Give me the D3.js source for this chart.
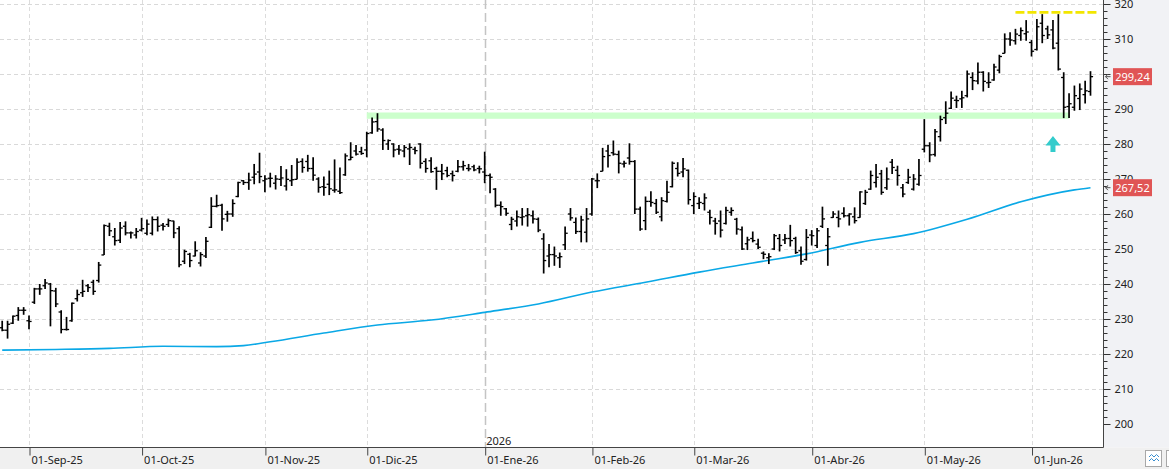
<!DOCTYPE html>
<html><head><meta charset="utf-8">
<script src="https://cdn.jsdelivr.net/npm/d3@7"></script>
<style>html,body{margin:0;padding:0;background:#fff;overflow:hidden}svg{display:block}</style>
</head><body><svg id="c" width="1169" height="469"></svg>
<script>
// ---------- DATA ----------
const opens  = [227.5,226.8,228.8,231.0,232.5,229.5,234.8,238.6,239.5,240.0,238.0,232.0,227.0,229.5,235.8,237.5,239.5,240.5,241.0,248.3,
256.5,253.5,252.5,256.5,254.6,254.0,255.4,254.5,254.5,258.4,256.8,257.0,258.0,255.8,246.5,248.5,248.0,246.0,248.0,256.2,
262.2,262.5,259.9,260.0,265.0,269.5,269.0,270.5,272.0,269.5,270.2,268.8,269.9,268.0,269.5,269.9,275.0,275.0,273.0,270.0,
267.8,268.5,266.8,266.5,271.2,275.5,278.0,277.8,278.3,283.2,286.4,284.0,280.0,280.0,278.5,278.0,278.6,278.5,280.0,275.0,
275.2,273.0,272.2,272.4,271.5,272.2,273.5,273.0,273.5,273.0,272.0,271.0,267.1,262.5,261.5,257.0,258.0,259.0,259.5,259.5,
258.5,252.9,248.0,248.4,247.5,251.2,260.0,257.6,255.0,254.8,260.0,269.5,272.2,278.0,277.5,277.0,274.3,276.0,275.0,261.4,
258.1,263.6,263.0,259.2,263.6,267.8,273.0,272.0,272.5,262.4,263.0,263.0,260.5,258.0,258.0,257.3,260.5,258.5,255.5,251.5,
253.0,251.4,248.8,247.5,250.0,253.0,252.6,253.0,253.0,249.5,247.0,254.0,251.0,256.5,251.0,259.0,259.0,260.2,259.5,259.2,
259.0,263.0,267.1,269.0,271.5,267.5,274.8,272.5,267.5,269.0,267.1,268.5,278.5,279.5,277.0,282.1,287.5,290.2,292.5,292.9,
293.8,299.0,298.0,300.5,297.5,298.3,301.1,305.9,310.0,309.5,311.0,311.5,309.0,307.0,314.5,312.9,312.6,308.8,299.0,290.7,
290.5,293.0,294.1,295.0];
const highs  = [229.5,229.5,231.0,233.4,233.4,231.0,238.9,240.0,241.4,240.3,238.9,232.5,230.6,234.7,238.4,241.2,240.0,241.2,246.3,257.0,
257.5,256.0,257.7,257.9,255.0,256.0,258.9,258.4,259.3,259.3,257.4,258.7,258.1,256.5,249.8,248.9,252.2,249.1,253.4,264.8,
265.5,262.9,260.9,264.2,269.2,269.7,271.8,274.3,277.5,271.1,271.8,271.1,273.7,272.8,274.0,275.9,275.9,276.9,276.2,270.5,
270.7,272.4,275.6,273.3,277.3,280.5,279.7,279.2,283.5,287.6,288.8,284.5,281.3,280.2,279.7,279.7,280.2,279.2,280.2,275.9,
276.2,273.5,274.3,273.5,272.4,275.4,275.2,274.3,274.1,273.8,277.8,271.6,267.4,263.6,261.7,259.2,261.0,261.7,261.7,261.0,
259.0,254.5,251.4,250.7,249.0,256.4,261.7,259.0,259.5,261.7,270.3,271.6,278.9,279.8,281.0,278.1,275.2,280.2,275.4,262.1,
265.0,266.5,264.3,264.8,269.5,275.0,274.8,276.0,272.7,266.2,264.8,265.9,261.2,258.9,261.0,262.1,261.9,258.9,256.4,253.5,
255.0,252.9,249.3,248.8,254.3,254.3,254.3,256.9,253.5,250.7,255.7,255.4,256.0,262.1,256.0,260.8,261.0,261.9,260.2,261.9,
266.5,266.9,272.4,274.3,272.6,273.3,275.7,273.8,268.6,272.9,271.4,275.7,287.1,280.5,284.3,288.1,292.2,295.0,293.8,295.2,
301.0,300.5,303.3,300.8,300.5,302.9,305.5,311.6,311.9,312.9,313.3,315.4,309.7,315.7,317.1,313.8,315.4,317.1,300.5,294.5,
296.7,297.3,298.1,300.8];
const lows   = [226.5,224.4,228.6,229.5,231.2,227.1,234.3,236.9,238.6,227.9,233.4,225.9,226.7,229.2,235.0,236.3,237.7,236.9,240.4,248.3,
253.7,251.0,251.7,253.9,253.0,253.0,255.0,253.9,253.9,255.0,255.3,256.3,253.1,244.8,245.7,244.8,247.9,245.0,247.4,256.0,
261.9,255.2,257.8,259.2,264.8,268.3,266.9,268.5,268.8,266.2,267.6,267.0,268.0,266.7,268.0,269.9,271.8,272.1,269.5,266.1,
265.2,265.4,266.1,265.7,270.9,275.4,276.7,276.9,276.2,282.9,283.5,278.3,278.3,276.2,276.9,276.2,274.0,277.1,273.0,271.8,
271.8,266.9,269.7,270.5,269.3,271.9,272.4,272.2,272.2,271.6,268.8,265.9,261.9,259.5,259.5,255.4,256.4,256.7,256.4,257.3,
254.8,243.0,244.8,245.2,244.6,249.7,258.1,254.3,251.9,251.9,259.5,267.4,272.2,273.3,276.7,271.6,273.3,274.1,260.0,255.2,
255.4,262.1,260.0,257.9,263.3,267.6,270.7,270.5,262.7,260.0,261.4,261.0,257.0,254.1,253.3,257.0,259.5,254.1,249.7,249.7,
251.9,250.0,247.1,245.7,249.7,249.3,251.4,250.7,248.6,245.5,246.7,251.0,250.3,256.0,245.2,258.9,256.2,259.0,256.7,257.3,
258.9,262.6,266.9,267.6,265.5,266.9,271.4,268.1,264.8,268.6,266.7,268.1,277.6,274.8,276.4,280.7,285.7,290.0,290.3,290.3,
293.3,295.4,297.1,295.0,296.0,298.1,300.2,305.9,308.1,308.4,309.5,309.5,305.0,306.7,308.8,310.0,307.1,301.0,287.4,287.4,
289.5,289.7,291.6,293.8];
const closes = [226.8,228.5,230.8,232.5,232.5,229.3,238.6,238.6,240.3,238.1,234.3,227.0,227.0,234.5,237.0,237.9,239.0,237.9,245.4,256.7,
255.2,252.4,256.0,254.6,254.6,255.0,255.8,257.1,258.4,256.5,256.5,258.1,254.6,245.5,249.3,246.7,249.5,248.4,252.2,262.2,
262.4,258.6,260.0,263.0,269.0,269.0,269.7,271.4,270.7,270.0,270.2,270.0,270.3,269.9,269.8,274.8,273.3,273.0,271.1,267.6,
267.6,267.2,266.9,266.1,276.6,276.2,277.1,277.3,283.0,286.3,284.3,281.0,281.0,278.3,278.3,279.0,279.0,278.1,274.5,273.0,
272.1,272.2,271.5,271.0,271.0,273.5,273.8,272.9,272.6,272.9,271.0,270.5,262.5,262.1,260.2,258.5,259.2,259.2,259.8,258.6,
255.4,246.7,248.4,248.0,247.8,254.5,258.9,255.0,258.3,258.6,270.0,269.5,276.4,276.7,277.1,274.5,274.5,275.0,261.4,255.7,
263.6,263.3,260.5,263.8,266.2,274.5,271.6,272.9,264.1,265.0,263.3,264.6,259.0,257.3,255.4,261.0,261.0,255.7,250.0,252.6,
252.4,250.5,248.5,247.8,253.8,251.0,253.0,252.4,249.0,246.5,253.3,253.8,255.2,258.6,253.5,260.0,258.6,259.5,260.0,258.1,
266.3,266.2,271.0,270.5,266.2,270.0,273.3,271.0,265.7,270.5,270.0,271.0,279.5,276.9,283.5,287.0,288.8,293.1,292.4,293.2,
300.0,298.1,300.5,297.9,297.6,302.0,305.0,310.0,309.7,311.4,312.4,312.0,306.5,313.5,311.0,311.2,307.4,301.4,290.5,291.5,
293.8,295.7,295.2,299.24];

// trading calendar (US market)
const firstDay = "2025-08-25";
const holidays = ["2025-09-01","2025-11-27","2025-12-25","2026-01-01","2026-01-19","2026-02-16","2026-04-03","2026-05-25"];

// x-axis ticks
const monthStarts = ["2025-09-01","2025-10-01","2025-11-01","2025-12-01","2026-01-01","2026-02-01","2026-03-01","2026-04-01","2026-05-01","2026-06-01"];
const monthLabels = ["01-Sep-25","01-Oct-25","01-Nov-25","01-Dic-25","01-Ene-26","01-Feb-26","01-Mar-26","01-Abr-26","01-May-26","01-Jun-26"];
const yearLabel = "2026";

// y-axis ticks
const yMajor = [200,210,220,230,240,250,260,270,280,290,300,310,320];

// moving average (read at sampled bars)
const maBars = [0,10,20,30,40,45,50,60,70,80,90,100,110,120,130,140,150,160,170,180,190,200,203];
const maVals = [221.1,221.3,221.6,222.2,222.1,222.4,223.5,226.0,228.3,229.7,231.9,234.3,237.7,240.5,243.4,246.0,248.6,251.9,254.4,258.5,263.5,266.9,267.52];

// annotations
const lastClose = 299.24, lastMA = 267.52;
const bandLevels = [287.2, 289.0], bandBars = [68, 199];
const topLevel = 317.6, topBars = [189, 204.2];
const arrowBar = 196, arrowLevels = [282.3, 277.7];

// ---------- BUILD ----------
const N = closes.length;
const parse = d3.utcParse("%Y-%m-%d");
const hol = new Set(holidays);
const dates = [];
for (let d = parse(firstDay); dates.length < N; d = d3.utcDay.offset(d, 1)) {
  const wd = d.getUTCDay();
  if (wd === 0 || wd === 6) continue;
  if (hol.has(d3.utcFormat("%Y-%m-%d")(d))) continue;
  dates.push(d);
}
const bars = d3.range(N).map(i => ({i, date: dates[i], o: opens[i], h: highs[i], l: lows[i], c: closes[i]}));
const monthIdx = monthStarts.map(s => { const t = parse(s); return dates.findIndex(d => d >= t); });

const W = 1169, H = 469, plotR = 1103.5, plotB = 447.5;
const x = d3.scaleLinear().domain([0, N - 1]).range([2.2, 1090.5]);
const y = d3.scaleLinear().domain([200, 320]).range([424, 4]);

const svg = d3.select("#c");
const FONT = "'Noto Sans', 'DejaVu Sans', sans-serif";

svg.append("rect").attr("width", W).attr("height", H).attr("fill", "#ffffff");
svg.append("rect").attr("x", plotR).attr("y", 0).attr("width", W - plotR).attr("height", plotB).attr("fill", "#f1f2f5");
svg.append("rect").attr("x", 0).attr("y", plotB).attr("width", W).attr("height", H - plotB).attr("fill", "#f0f0f0");

// horizontal gridlines
svg.append("g").selectAll("line").data(yMajor.filter(v => v > 200)).join("line")
  .attr("x1", 0).attr("x2", plotR).attr("y1", d => Math.round(y(d)) + 0.5).attr("y2", d => Math.round(y(d)) + 0.5)
  .attr("stroke", "#d9d9d9").attr("stroke-dasharray", "4,3");

// vertical gridlines
const yearIdx = monthIdx[monthLabels.indexOf("01-Ene-26")];
svg.append("g").selectAll("line").data(monthIdx).join("line")
  .attr("x1", d => Math.round(x(d)) + 0.5).attr("x2", d => Math.round(x(d)) + 0.5)
  .attr("y1", 0).attr("y2", plotB)
  .attr("stroke", d => d === yearIdx ? "#c4c4c4" : "#dcdcdc")
  .attr("stroke-width", d => d === yearIdx ? 1.5 : 1)
  .attr("stroke-dasharray", d => d === yearIdx ? "9,4" : "4,3");

// support band
svg.append("rect")
  .attr("x", x(bandBars[0])).attr("width", x(bandBars[1]) - x(bandBars[0]))
  .attr("y", y(bandLevels[1])).attr("height", y(bandLevels[0]) - y(bandLevels[1]))
  .attr("fill", "#ccffcc");

// moving average
svg.append("path").datum(maBars.map((b, k) => [b, maVals[k]]))
  .attr("fill", "none").attr("stroke", "#0aa8e6").attr("stroke-width", 1.6)
  .attr("d", d3.line().x(d => x(d[0])).y(d => y(d[1])).curve(d3.curveMonotoneX));

// OHLC bars
const gb = svg.append("g").attr("stroke", "#000");
gb.selectAll("line.v").data(bars).join("line").attr("class", "v")
  .attr("x1", d => x(d.i)).attr("x2", d => x(d.i))
  .attr("y1", d => y(d.h)).attr("y2", d => y(d.l)).attr("stroke-width", 1.7);
gb.selectAll("line.o").data(bars).join("line").attr("class", "o")
  .attr("x1", d => x(d.i) - 2.6).attr("x2", d => x(d.i))
  .attr("y1", d => y(d.o)).attr("y2", d => y(d.o)).attr("stroke-width", 1.3);
gb.selectAll("line.c").data(bars).join("line").attr("class", "c")
  .attr("x1", d => x(d.i)).attr("x2", d => x(d.i) + 2.6)
  .attr("y1", d => y(d.c)).attr("y2", d => y(d.c)).attr("stroke-width", 1.3);

// resistance (yellow dashed)
svg.append("line")
  .attr("x1", x(topBars[0])).attr("x2", x(topBars[1]))
  .attr("y1", y(topLevel)).attr("y2", y(topLevel))
  .attr("stroke", "#f2e600").attr("stroke-width", 2.6).attr("stroke-dasharray", "9,3");

// up arrow
{
  const ax = x(arrowBar), yt = y(arrowLevels[0]), yb = y(arrowLevels[1]);
  const hh = (yb - yt) * 0.6;
  svg.append("path")
    .attr("d", `M${ax},${yt} L${ax + 7.5},${yt + hh} L${ax + 2.5},${yt + hh} L${ax + 2.5},${yb} L${ax - 2.5},${yb} L${ax - 2.5},${yt + hh} L${ax - 7.5},${yt + hh} Z`)
    .attr("fill", "#33cccc");
}

// right axis
const yAll = d3.range(200, 320.001, 2);
const ga = svg.append("g").attr("transform", `translate(${plotR},0)`)
  .call(d3.axisRight(y).tickValues(yMajor).tickSize(7).tickPadding(4).tickFormat(d3.format("d")));
ga.select(".domain").remove();
ga.selectAll("line").attr("stroke", "#333");
ga.selectAll("text").attr("font-family", FONT).attr("font-size", 11).attr("fill", "#222");
const gm = svg.append("g").attr("transform", `translate(${plotR},0)`)
  .call(d3.axisRight(y).tickValues(yAll.filter(v => v % 10 !== 0)).tickSize(4).tickFormat(""));
gm.select(".domain").remove();
gm.selectAll("line").attr("stroke", "#333");
svg.append("line").attr("x1", plotR).attr("x2", plotR).attr("y1", 0).attr("y2", plotB).attr("stroke", "#444");

// bottom axis
const gx = svg.append("g").attr("transform", `translate(0,${plotB})`)
  .call(d3.axisBottom(x).tickValues(monthIdx).tickSize(8).tickFormat((d, k) => monthLabels[k]));
gx.select(".domain").remove();
gx.selectAll(".tick line").attr("stroke", "#444").attr("transform", "translate(0.5,0)");
gx.selectAll(".tick text").attr("text-anchor", "start").attr("x", 2).attr("y", 16.5).attr("dy", 0)
  .attr("font-family", FONT).attr("font-size", 11).attr("fill", "#222");
svg.append("line").attr("x1", 0).attr("x2", plotR).attr("y1", plotB).attr("y2", plotB).attr("stroke", "#444");
svg.append("text").attr("x", x(yearIdx) + 1.5).attr("y", plotB - 3).text(yearLabel)
  .attr("font-family", FONT).attr("font-size", 11).attr("fill", "#222");

// value boxes
function valueBox(v) {
  const cy = y(v);
  svg.append("path").attr("d", `M${plotR + 7},${cy} L${plotR + 2},${cy} M${plotR + 4.5},${cy - 2.5} L${plotR + 2},${cy} L${plotR + 4.5},${cy + 2.5}`)
    .attr("stroke", "#555").attr("fill", "none").attr("stroke-width", 1);
  svg.append("rect").attr("x", 1113).attr("y", cy - 8.5).attr("width", 39).attr("height", 17).attr("fill", "#e05555");
  svg.append("text").attr("x", 1132.5).attr("y", cy).attr("dy", "0.36em").attr("text-anchor", "middle")
    .attr("font-family", FONT).attr("font-size", 11).attr("fill", "#fff").text(d3.format(".2f")(v).replace(".", ","));
}
valueBox(lastClose);
valueBox(lastMA);

// small icons bottom-right
svg.append("rect").attr("x", 1145.5).attr("y", 450.5).attr("width", 16).attr("height", 16).attr("fill", "#fff").attr("stroke", "#a8a8a8");
svg.append("path").attr("d", "M1149,457 l2.5,-2.5 l2.5,2.5 l2.5,-2.5 l2.5,2.5 M1149,461 l2.5,-2.5 l2.5,2.5 l2.5,-2.5 l2.5,2.5")
  .attr("fill", "none").attr("stroke", "#3a8fd0").attr("stroke-width", 1);
svg.append("rect").attr("x", 1166.5).attr("y", 450.5).attr("width", 6).attr("height", 16).attr("fill", "#fff").attr("stroke", "#a8a8a8");
</script></body></html>
